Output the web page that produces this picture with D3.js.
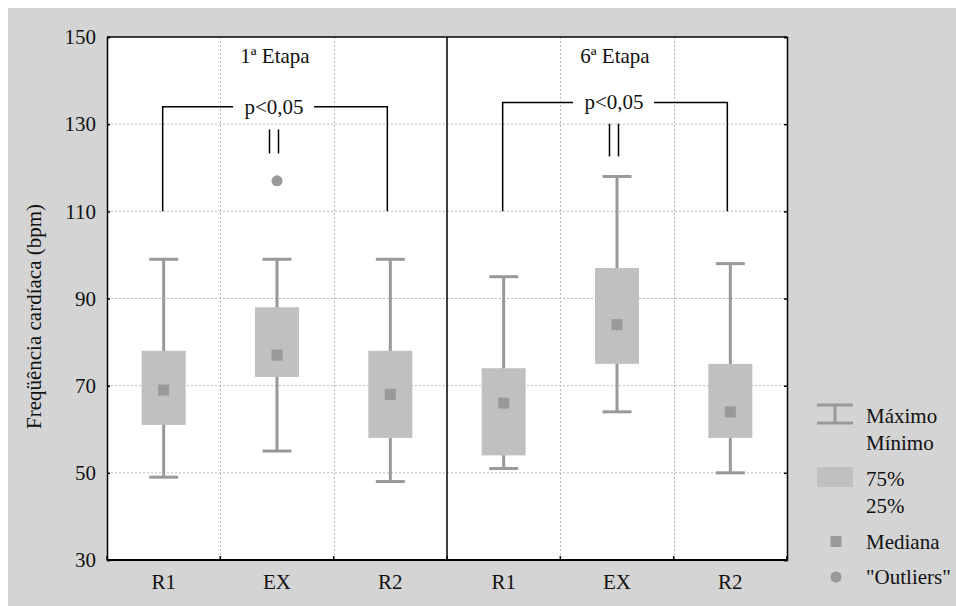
<!DOCTYPE html>
<html>
<head>
<meta charset="utf-8">
<script src="https://cdn.jsdelivr.net/npm/d3@7"></script>
<style>
  body { margin: 0; background: #fff; }
  svg { display: block; }
  svg text { font-family: "Liberation Serif", "Times New Roman", Times, "DejaVu Serif", serif !important; }
</style>
</head>
<body>
<svg id="chart" width="956" height="606"></svg>
<script>
// Chart data
const etapas = ["1ª Etapa", "6ª Etapa"];
const groups = ["R1", "EX", "R2"];
const maxs    = [99, 99, 99, 95, 118, 98];
const q3s     = [78, 88, 78, 74, 97, 75];
const medians = [69, 77, 68, 66, 84, 64];
const q1s     = [61, 72, 58, 54, 75, 58];
const mins    = [49, 55, 48, 51, 64, 50];
const outliers = [{ idx: 1, value: 117 }];
const yTicks = [30, 50, 70, 90, 110, 130, 150];
const bracketTop = [134, 135];   // p<0,05 bracket level for each etapa
const bracketBottom = 110;
const equalSigns = [[123.3, 128.8], [122.6, 130.1]];

// Build one row per box
const boxes = maxs.map((mx, i) => ({
    key: i,
    etapa: Math.floor(i / 3),
    label: groups[i % 3],
    max: mx, q3: q3s[i], median: medians[i], q1: q1s[i], min: mins[i]
}));

const svg = d3.select("#chart");
const plotLeft = 107, plotRight = 787, plotTop = 37, plotBottom = 560;
const grey = "#999999";
const fs = 21;

// Background
svg.append("rect").attr("x", 8).attr("y", 8).attr("width", 948).attr("height", 598).attr("fill", "#d4d4d4");
svg.append("rect").attr("x", plotLeft).attr("y", plotTop).attr("width", plotRight - plotLeft).attr("height", plotBottom - plotTop).attr("fill", "#fff");

const x = d3.scaleBand().domain(boxes.map(d => d.key)).range([plotLeft, plotRight]).padding(0);
const y = d3.scaleLinear().domain([30, 150]).range([plotBottom, plotTop]);
const bw = x.bandwidth();

// Gridlines
svg.append("g")
    .selectAll("line")
    .data(yTicks.slice(1, -1))
    .join("line")
    .attr("x1", plotLeft).attr("x2", plotRight)
    .attr("y1", d => y(d)).attr("y2", d => y(d))
    .attr("stroke", "#b8b8b8").attr("stroke-dasharray", "2,2");

svg.append("g")
    .selectAll("line")
    .data(boxes.filter(d => d.key > 0 && d.key !== 3))
    .join("line")
    .attr("x1", d => Math.round(x(d.key)) + 0.5).attr("x2", d => Math.round(x(d.key)) + 0.5)
    .attr("y1", plotTop).attr("y2", plotBottom)
    .attr("stroke", "#b8b8b8").attr("stroke-dasharray", "2,2");

// Axes
const yAxisL = d3.axisLeft(y).tickValues(yTicks).tickSize(-3).tickPadding(11);
const gL = svg.append("g").attr("transform", `translate(${plotLeft},0)`).call(yAxisL);
const yAxisR = d3.axisRight(y).tickValues(yTicks).tickSize(-3).tickFormat("");
const gR = svg.append("g").attr("transform", `translate(${plotRight},0)`).call(yAxisR);
[gL, gR].forEach(g => {
    g.select(".domain").attr("stroke", "#000").attr("stroke-width", 1.5);
    g.selectAll(".tick line").attr("stroke", "#000").attr("stroke-width", 1.5);
    g.selectAll("text").attr("font-size", fs).attr("fill", "#111");
});

const xAxis = d3.axisBottom(x).tickSize(0).tickFormat(k => boxes[k].label).tickPadding(14);
const gx = svg.append("g").attr("transform", `translate(0,${plotBottom})`).call(xAxis);
gx.select(".domain").remove();
gx.selectAll("text").attr("font-size", fs).attr("fill", "#111");
svg.append("line").attr("x1", plotLeft).attr("x2", plotRight).attr("y1", plotBottom).attr("y2", plotBottom)
    .attr("stroke", "#000").attr("stroke-width", 2);
svg.append("line").attr("x1", plotLeft).attr("x2", plotRight).attr("y1", plotTop).attr("y2", plotTop)
    .attr("stroke", "#000").attr("stroke-width", 1.5);
// bottom tick marks at band boundaries
svg.append("g").selectAll("line")
    .data(d3.range(0, 7))
    .join("line")
    .attr("x1", i => plotLeft + i * bw).attr("x2", i => plotLeft + i * bw)
    .attr("y1", plotBottom).attr("y2", plotBottom - 4)
    .attr("stroke", "#000").attr("stroke-width", 1.5);

// Divider between etapas
svg.append("line")
    .attr("x1", x(3)).attr("x2", x(3)).attr("y1", plotTop).attr("y2", plotBottom)
    .attr("stroke", "#000").attr("stroke-width", 1.5);

// Y axis title
svg.append("text")
    .attr("transform", `translate(41,${(plotTop + plotBottom) / 2 + 18}) rotate(-90)`)
    .attr("text-anchor", "middle")
    .attr("font-size", fs)
    .attr("fill", "#111")
    .text("Freqüência cardíaca (bpm)");

// Etapa titles
svg.append("g").selectAll("text")
    .data(etapas)
    .join("text")
    .attr("x", (d, i) => x(i * 3 + 1) + bw / 2 - 2)
    .attr("y", 63)
    .attr("text-anchor", "middle")
    .attr("font-size", fs)
    .attr("fill", "#111")
    .text(d => d);

// Box plots
const capW = 29, boxW = 44, medS = 11;
const bx = svg.append("g").selectAll("g").data(boxes).join("g")
    .attr("transform", d => `translate(${x(d.key) + bw / 2},0)`);

bx.append("line")
    .attr("x1", 0).attr("x2", 0)
    .attr("y1", d => y(d.max)).attr("y2", d => y(d.min))
    .attr("stroke", grey).attr("stroke-width", 3);
bx.append("rect")
    .attr("x", -boxW / 2).attr("width", boxW)
    .attr("y", d => y(d.q3)).attr("height", d => y(d.q1) - y(d.q3))
    .attr("fill", "#c0c0c0");
bx.selectAll(".cap")
    .data(d => [d.max, d.min])
    .join("line")
    .attr("class", "cap")
    .attr("x1", -capW / 2).attr("x2", capW / 2)
    .attr("y1", v => y(v)).attr("y2", v => y(v))
    .attr("stroke", grey).attr("stroke-width", 3);
bx.append("rect")
    .attr("x", -medS / 2).attr("width", medS)
    .attr("y", d => y(d.median) - medS / 2).attr("height", medS)
    .attr("fill", grey);

svg.append("g").selectAll("circle")
    .data(outliers)
    .join("circle")
    .attr("cx", d => x(d.idx) + bw / 2)
    .attr("cy", d => y(d.value))
    .attr("r", 5.5)
    .attr("fill", grey);

// Significance brackets
etapas.forEach((e, i) => {
    const xl = x(i * 3) + bw / 2 - 1;
    const xr = x(i * 3 + 2) + bw / 2 - 3;
    const xm = x(i * 3 + 1) + bw / 2 - 3;
    const yt = y(bracketTop[i]);
    const g = svg.append("g").attr("stroke", "#000").attr("stroke-width", 1.5).attr("fill", "none");
    g.append("path").attr("d", `M${xl},${y(bracketBottom)}V${yt}H${xm - 41}`);
    g.append("path").attr("d", `M${xm + 40},${yt}H${xr}V${y(bracketBottom)}`);
    [-4.5, 4.5].forEach(dx => {
        g.append("line")
            .attr("x1", xm + dx).attr("x2", xm + dx)
            .attr("y1", y(equalSigns[i][1])).attr("y2", y(equalSigns[i][0]));
    });
    svg.append("text")
        .attr("x", xm)
        .attr("y", yt + 7)
        .attr("text-anchor", "middle")
        .attr("font-size", fs)
        .attr("fill", "#111")
        .text("p<0,05");
});

// Legend
const lg = svg.append("g");
lg.append("path").attr("d", "M817,405H853M817,423H853M835,405V423")
    .attr("stroke", grey).attr("stroke-width", 3).attr("fill", "none");
lg.append("rect").attr("x", 817).attr("y", 467).attr("width", 36).attr("height", 20).attr("fill", "#c0c0c0");
lg.append("rect").attr("x", 830.5).attr("y", 536).attr("width", medS).attr("height", medS).attr("fill", grey);
lg.append("circle").attr("cx", 836).attr("cy", 577).attr("r", 5.5).attr("fill", grey);
const legendText = [["Máximo", 423], ["Mínimo", 450], ["75%", 486], ["25%", 513], ["Mediana", 549], ["\"Outliers\"", 584]];
lg.selectAll("text")
    .data(legendText)
    .join("text")
    .attr("x", 866)
    .attr("y", d => d[1])
    .attr("font-size", fs)
    .attr("fill", "#111")
    .text(d => d[0]);
</script>
</body>
</html>
